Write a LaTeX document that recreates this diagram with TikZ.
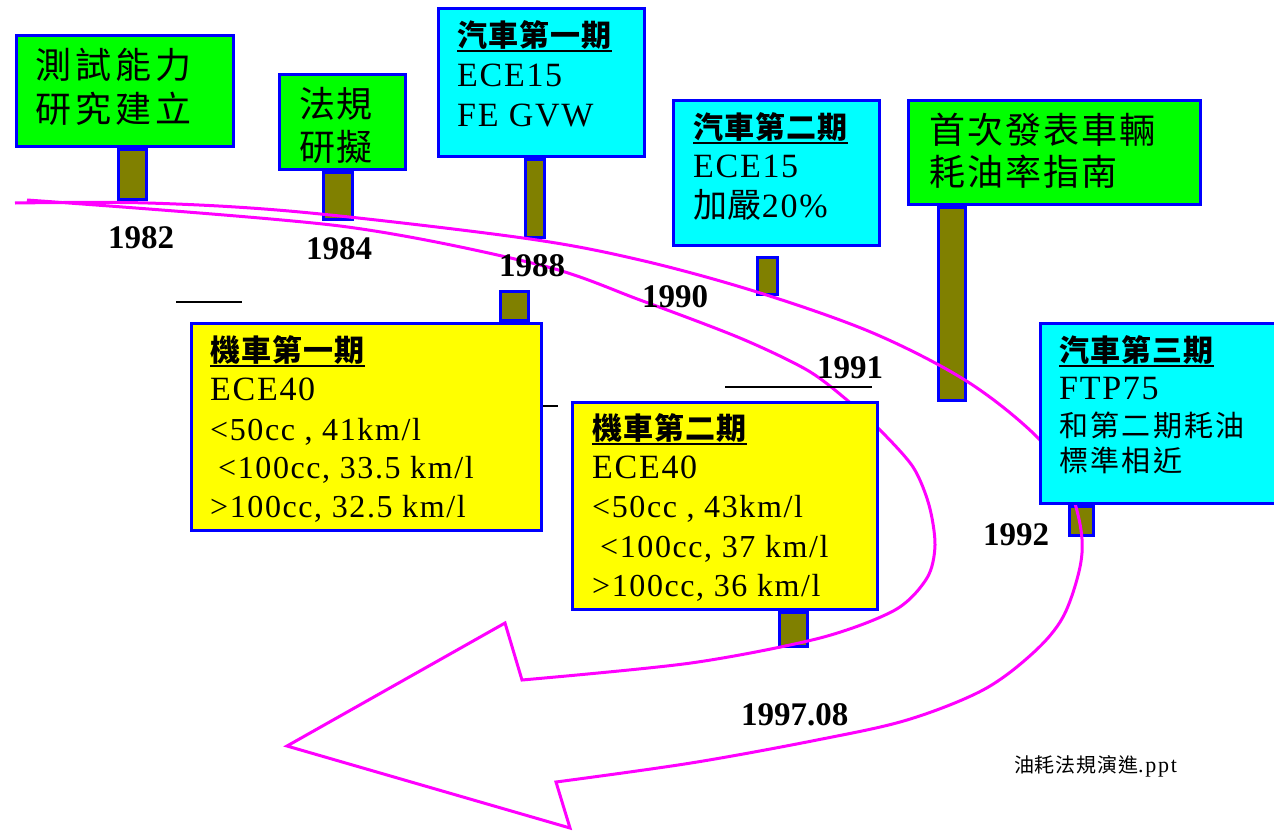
\documentclass[tikz,border=0pt]{standalone}
\usepackage{fontspec}
\setmainfont{Liberation Serif}
\newfontfamily\tms[LetterSpace=5]{Liberation Serif}
\newfontfamily\cjk{Noto Sans CJK TC}
\definecolor{bgreen}{HTML}{00FF00}
\definecolor{bcyan}{HTML}{00FFFF}
\definecolor{byellow}{HTML}{FFFF00}
\definecolor{olivepost}{HTML}{808000}
\definecolor{bblue}{HTML}{0000FF}
\definecolor{mag}{HTML}{FF00FF}
\newcommand\hul[1]{\setbox0=\hbox{#1}\rlap{\rule[-6pt]{\wd0}{2pt}}\box0}
\newcommand\zhf[2]{\cjk\fontsize{#1}{#1}\selectfont\addfontfeatures{LetterSpace=#2}}
\tikzset{
  panel/.style={draw=bblue, line width=3.5pt, inner sep=0pt},
  gbox/.style={panel, fill=bgreen},
  cbox/.style={panel, fill=bcyan},
  ybox/.style={panel, fill=byellow},
  post/.style={draw=bblue, line width=3pt, fill=olivepost, inner sep=0pt},
  txt/.style={anchor=base west, inner sep=0pt},
  zhA/.style={txt, font=\zhf{36}{11}},
  zhB/.style={txt, font=\zhf{36}{5}},
  zhC/.style={txt, font=\zhf{36}{6}},
  zhs/.style={txt, font=\zhf{29}{8}},
  head/.style={txt, font={\zhf{30}{4}\bfseries}},
  lat/.style={txt, font=\tms\fontsize{34}{40}\selectfont},
  lats/.style={txt, font=\tms\fontsize{32}{38}\selectfont},
  year/.style={anchor=base west, inner sep=0pt, font=\bfseries\fontsize{33}{38}\selectfont},
  arrowline/.style={draw=mag, line width=3pt, line join=miter},
  rulel/.style={draw=black, line width=1.8pt}
}
\begin{document}
\begin{tikzpicture}[x=1pt,y=-1pt]
\useasboundingbox (0,0) rectangle (1274,830);
\fill[white] (0,0) rectangle (1274,830);
% posts
\node[post, minimum width=28pt, minimum height=50pt] (p1) at (132.5,174.5) {};
\node[post, minimum width=29pt, minimum height=47pt] (p2) at (338,196) {};
\node[post, minimum width=19pt, minimum height=78pt] (p3) at (535,198.5) {};
\node[post, minimum width=20pt, minimum height=37pt] (p4) at (767.5,276) {};
\node[post, minimum width=27pt, minimum height=193pt] (p5) at (952,304) {};
\node[post, minimum width=24pt, minimum height=29pt] (p6) at (1081.5,521) {};
\node[post, minimum width=28pt, minimum height=29pt] (pm1) at (514.5,306) {};
\node[post, minimum width=28pt, minimum height=34pt] (pm2) at (793.5,629.5) {};
% curved arrow
\draw[arrowline]
  plot[smooth, tension=0.55] coordinates {(15,203) (148,203) (300,212) (523,238) (640,260) (757,292) (873,333) (968,382) (1038,438) (1068,485) (1081,530) (1080,567) (1063,617) (1033,653) (983,690) (907,720) (817,740) (691,763) (556,782)}
  -- (570,828) -- (287,746) -- (505,623) --
  plot[smooth, tension=0.5] coordinates {(522,680) (691,663) (820,638) (895,610) (927,578) (935,545) (929,505) (913,467) (880,430) (847,400) (807,370) (740,338) (640,300) (540,265) (340,226) (27,200)};
% boxes
\node[gbox, minimum width=217pt, minimum height=111pt] (g1) at (125,91) {};
\node[gbox, minimum width=126pt, minimum height=95pt] (g2) at (342.5,122) {};
\node[cbox, minimum width=206pt, minimum height=148pt] (c1) at (541.5,82.5) {};
\node[cbox, minimum width=206pt, minimum height=145pt] (c2) at (776.5,173) {};
\node[gbox, minimum width=292pt, minimum height=104pt] (g3) at (1054.5,152.5) {};
\node[cbox, minimum width=248pt, minimum height=180pt] (c3) at (1164.5,413.5) {};
\node[ybox, minimum width=350pt, minimum height=207pt] (y1) at (366.5,427) {};
\node[ybox, minimum width=305pt, minimum height=207pt] (y2) at (725,506) {};
% texts green 1
\node[zhA] (g1a) at (35,78) {測試能力};
\node[zhA] (g1b) at (35,122) {研究建立};
% green 2
\node[zhB] (g2a) at (299,117) {法規};
\node[zhB] (g2b) at (299,160) {研擬};
% cyan 1
\node[head] (c1a) at (457,46) {\hul{汽車第一期}};
\node[lat] (c1b) at (457,86) {ECE15};
\node[lat] (c1c) at (457,126) {FE GVW};
% cyan 2
\node[head] (c2a) at (693,138) {\hul{汽車第二期}};
\node[lat] (c2b) at (693,177) {ECE15};
\node[txt] (c2c) at (693,217) {{\zhf{34}{2}加嚴}{\tms\fontsize{34}{40}\selectfont 20\%}};
% green 3
\node[zhC] (g3a) at (929,143) {首次發表車輛};
\node[zhC] (g3b) at (929,185) {耗油率指南};
% cyan 3
\node[head] (c3a) at (1059,361) {\hul{汽車第三期}};
\node[lat] (c3b) at (1059,399) {FTP75};
\node[zhs] (c3c) at (1059,436) {和第二期耗油};
\node[zhs] (c3d) at (1059,471) {標準相近};
% yellow 1
\node[head] (y1a) at (210,361) {\hul{機車第一期}};
\node[lat] (y1b) at (210,400) {ECE40};
\node[lats] (y1c) at (210,440) {<50cc , 41km/l};
\node[lats] (y1d) at (218,478) {<100cc, 33.5 km/l};
\node[lats] (y1e) at (210,517) {>100cc, 32.5 km/l};
% yellow 2
\node[head] (y2a) at (592,439) {\hul{機車第二期}};
\node[lat] (y2b) at (592,478) {ECE40};
\node[lats] (y2c) at (592,517) {<50cc , 43km/l};
\node[lats] (y2d) at (600,557) {<100cc, 37 km/l};
\node[lats] (y2e) at (592,596) {>100cc, 36 km/l};
% years
\node[year] (t82) at (108,248) {1982};
\node[year] (t84) at (306,259) {1984};
\node[year] (t88) at (499,276) {1988};
\node[year] (t90) at (642,307) {1990};
\node[year] (t91) at (817,378) {1991};
\node[year] (t92) at (983,545) {1992};
\node[year] (t97) at (741,725) {1997.08};
% small rules
\draw[rulel] (176,302) -- (242,302);
\draw[rulel] (543,406) -- (558,406);
\draw[rulel] (725,387) -- (872,387);
% footer
\node[txt] (foot) at (1014,772) {{\zhf{20}{4}油耗法規演進}{\tms\fontsize{22}{24}\selectfont\addfontfeatures{LetterSpace=8}.ppt}};
\end{tikzpicture}
\end{document}
